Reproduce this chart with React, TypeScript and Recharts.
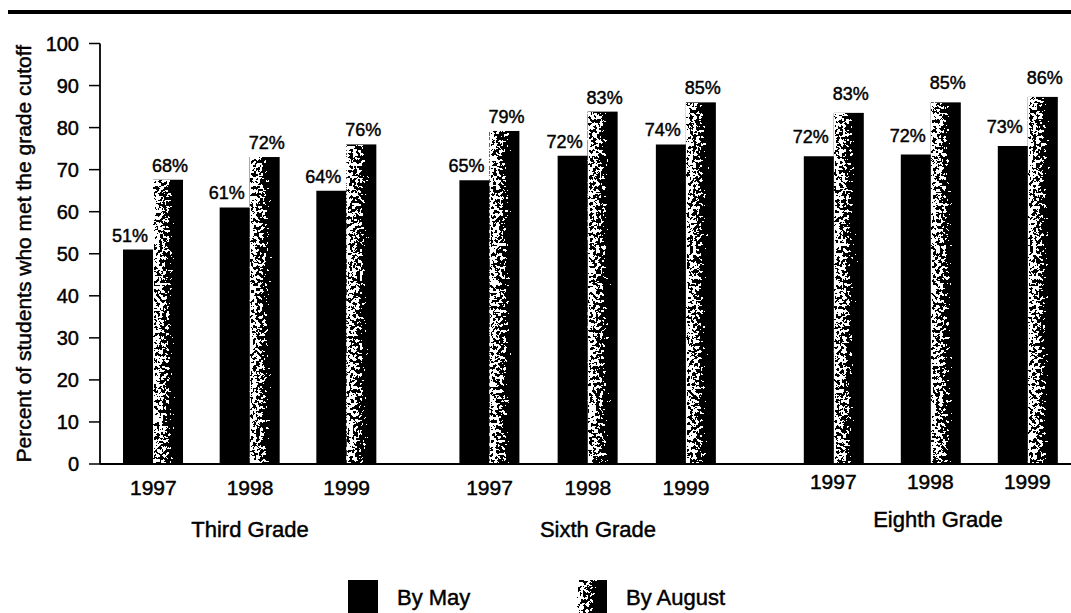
import React from 'react';
import { BarChart, Bar, XAxis, YAxis, LabelList, Legend } from 'recharts';

const FONT = '"Liberation Sans", Arial, Helvetica, sans-serif';

const years = ['1997', '1998', '1999'];
const seriesNames = ['By May', 'By August'];
const yTicks = [0, 10, 20, 30, 40, 50, 60, 70, 80, 90, 100];
const yAxisTitle = 'Percent of students who met the grade cutoff';

const thirdMay = [51, 61, 65];
const thirdAug = [67.6, 73, 76];
const thirdMayPct = [51, 61, 64];
const thirdAugPct = [68, 72, 76];

const sixthMay = [67.5, 73.3, 76];
const sixthAug = [79.2, 83.8, 86];
const sixthMayPct = [65, 72, 74];
const sixthAugPct = [79, 83, 85];

const eighthMay = [73.2, 73.6, 75.6];
const eighthAug = [83.5, 86, 87.3];
const eighthMayPct = [72, 72, 73];
const eighthAugPct = [83, 85, 86];

const buildRows = (may: number[], aug: number[], mayPct: number[], augPct: number[]) =>
  years.map((year, i) => ({
    year,
    may: may[i],
    aug: aug[i],
    mayLabel: `${mayPct[i]}%`,
    augLabel: `${augPct[i]}%`,
  }));

const SpeckleDefs = ({ id }: { id: string }) => (
  <defs>
    <linearGradient id={`${id}-grad`} x1="0" y1="0" x2="1" y2="0">
      <stop offset="0" stopColor="rgb(200,200,200)" />
      <stop offset="0.06" stopColor="rgb(140,140,140)" />
      <stop offset="0.3" stopColor="rgb(130,130,130)" />
      <stop offset="0.5" stopColor="rgb(105,105,105)" />
      <stop offset="0.7" stopColor="rgb(55,55,55)" />
      <stop offset="1" stopColor="rgb(0,0,0)" />
    </linearGradient>
    <filter id={`${id}-speckle`} x="0" y="0" width="1" height="1" colorInterpolationFilters="sRGB">
      <feTurbulence type="fractalNoise" baseFrequency="0.3" numOctaves={3} seed={11} result="noise" />
      <feColorMatrix
        in="noise"
        type="matrix"
        values="1 0 0 0 0  1 0 0 0 0  1 0 0 0 0  0 0 0 0 1"
        result="gray"
      />
      <feComposite in="SourceGraphic" in2="gray" operator="arithmetic" k1={0} k2={4} k3={4} k4={-3.5} result="sum" />
      <feComponentTransfer in="sum" result="bw">
        <feFuncR type="discrete" tableValues="0 1" />
        <feFuncG type="discrete" tableValues="0 1" />
        <feFuncB type="discrete" tableValues="0 1" />
      </feComponentTransfer>
      <feComposite in="bw" in2="SourceGraphic" operator="in" />
    </filter>
  </defs>
);

const DataLabel = (props: any) => {
  const { x, y, width, value, dx, gap } = props;
  return (
    <text
      x={Number(x) + Number(width) / 2 + dx}
      y={Number(y) - gap}
      textAnchor="middle"
      fontSize={18}
      fill="#000"
      fontFamily={FONT}
    >
      {value}
    </text>
  );
};

const renderLegend = () => (
  <div style={{ position: 'relative', width: 400, height: 33, fontFamily: FONT, fontSize: 22, color: '#000' }}>
    {seriesNames.map((name, i) => (
      <div key={name} style={{ position: 'absolute', left: i * 229, top: 0, width: 200, height: 33 }}>
        <svg width={30} height={33} style={{ position: 'absolute', left: 0, top: 0 }}>
          {i === 1 && <SpeckleDefs id="legend" />}
          <rect
            x={0}
            y={0}
            width={30}
            height={33}
            fill={i === 0 ? '#000' : 'url(#legend-grad)'}
            filter={i === 0 ? undefined : 'url(#legend-speckle)'}
          />
        </svg>
        <span
          className="legend-text"
          style={{ position: 'absolute', left: 49, top: 7, lineHeight: '22px', whiteSpace: 'nowrap' }}
        >
          {name}
        </span>
      </div>
    ))}
  </div>
);

type PanelProps = {
  id: string;
  grade: string;
  rows: any[];
  left: number;
  width: number;
  padLeft: number;
  padRight: number;
  showY: boolean;
  gradeDx: number;
  gradeBaseline: number;
  yearMargin: number;
  labelGap: number;
  legend?: boolean;
};

const GradePanel = (p: PanelProps) => {
  const gradeLabel = (lp: any) => {
    const vb = lp.viewBox || {};
    return (
      <text
        x={vb.x + vb.width / 2 + p.gradeDx}
        y={p.gradeBaseline}
        textAnchor="middle"
        fontSize={22}
        fill="#000"
        fontFamily={FONT}
      >
        {p.grade}
      </text>
    );
  };
  const yLabel = (lp: any) => {
    const vb = lp.viewBox || {};
    const cy = vb.y + vb.height / 2;
    return (
      <text
        x={23}
        y={cy}
        transform={`rotate(-90, 23, ${cy})`}
        textAnchor="middle"
        dominantBaseline="central"
        fontSize={21}
        fill="#000"
        fontFamily={FONT}
      >
        {yAxisTitle}
      </text>
    );
  };
  return (
    <div style={{ position: 'absolute', left: p.left, top: 0 }}>
      <BarChart
        width={p.width}
        height={613}
        data={p.rows}
        margin={{ top: 43.5, right: 0, bottom: 0, left: 0 }}
        barGap={0}
        barCategoryGap={0}
        style={{ fontFamily: FONT }}
      >
        <SpeckleDefs id={p.id} />
        <XAxis
          dataKey="year"
          interval={0}
          height={149}
          padding={{ left: p.padLeft, right: p.padRight }}
          axisLine={{ stroke: '#000', strokeWidth: 1.8 }}
          tickLine={false}
          tickSize={6}
          tickMargin={p.yearMargin}
          tick={{ fontSize: 21, fill: '#000', fontFamily: FONT }}
          label={gradeLabel}
        />
        {p.showY ? (
          <YAxis
            domain={[0, 100]}
            ticks={yTicks}
            interval={0}
            width={100}
            tickSize={11}
            tickMargin={10}
            axisLine={{ stroke: '#000', strokeWidth: 1.8 }}
            tickLine={{ stroke: '#000', strokeWidth: 1.5 }}
            tick={{ fontSize: 20, fill: '#000', fontFamily: FONT }}
            label={yLabel}
          />
        ) : (
          <YAxis hide domain={[0, 100]} ticks={yTicks} />
        )}
        {p.legend && (
          <Legend
            layout="horizontal"
            verticalAlign="middle"
            align="center"
            content={renderLegend}
            wrapperStyle={{ left: 348, top: 580, width: 400, height: 33 }}
          />
        )}
        <Bar dataKey="may" name={seriesNames[0]} fill="#000" barSize={30} isAnimationActive={false}>
          <LabelList dataKey="mayLabel" content={(lp: any) => <DataLabel {...lp} dx={-8} gap={p.labelGap} />} />
        </Bar>
        <Bar
          dataKey="aug"
          name={seriesNames[1]}
          fill="#222"
          barSize={30}
          isAnimationActive={false}
          shape={(sp: any) => (
            <rect
              x={sp.x}
              y={sp.y}
              width={sp.width}
              height={sp.height}
              fill={`url(#${p.id}-grad)`}
              filter={`url(#${p.id}-speckle)`}
            />
          )}
        >
          <LabelList dataKey="augLabel" content={(lp: any) => <DataLabel {...lp} dx={2} gap={p.labelGap} />} />
        </Bar>
      </BarChart>
    </div>
  );
};

export default function App() {
  return (
    <div
      style={{
        position: 'fixed',
        left: 0,
        top: 0,
        width: 1071,
        height: 613,
        overflow: 'hidden',
        background: '#fff',
        fontFamily: FONT,
      }}
    >
      <style>{`svg text { stroke: #000; stroke-width: 0.45px; } .legend-text { -webkit-text-stroke: 0.45px #000; }`}</style>
      <div style={{ position: 'absolute', left: 8, right: 0, top: 10, height: 4, background: '#000' }} />
      <GradePanel
        id="third"
        grade="Third Grade"
        rows={buildRows(thirdMay, thirdAug, thirdMayPct, thirdAugPct)}
        left={0}
        width={420}
        padLeft={5}
        padRight={25}
        showY
        gradeDx={-10}
        gradeBaseline={537}
        yearMargin={10}
        labelGap={8}
        legend
      />
      <GradePanel
        id="sixth"
        grade="Sixth Grade"
        rows={buildRows(sixthMay, sixthAug, sixthMayPct, sixthAugPct)}
        left={420}
        width={340}
        padLeft={20.4}
        padRight={24.9}
        showY={false}
        gradeDx={8}
        gradeBaseline={537}
        yearMargin={10}
        labelGap={8}
      />
      <GradePanel
        id="eighth"
        grade="Eighth Grade"
        rows={buildRows(eighthMay, eighthAug, eighthMayPct, eighthAugPct)}
        left={760}
        width={320}
        padLeft={24.8}
        padRight={4.2}
        showY={false}
        gradeDx={18}
        gradeBaseline={527}
        yearMargin={4}
        labelGap={13}
      />
    </div>
  );
}
